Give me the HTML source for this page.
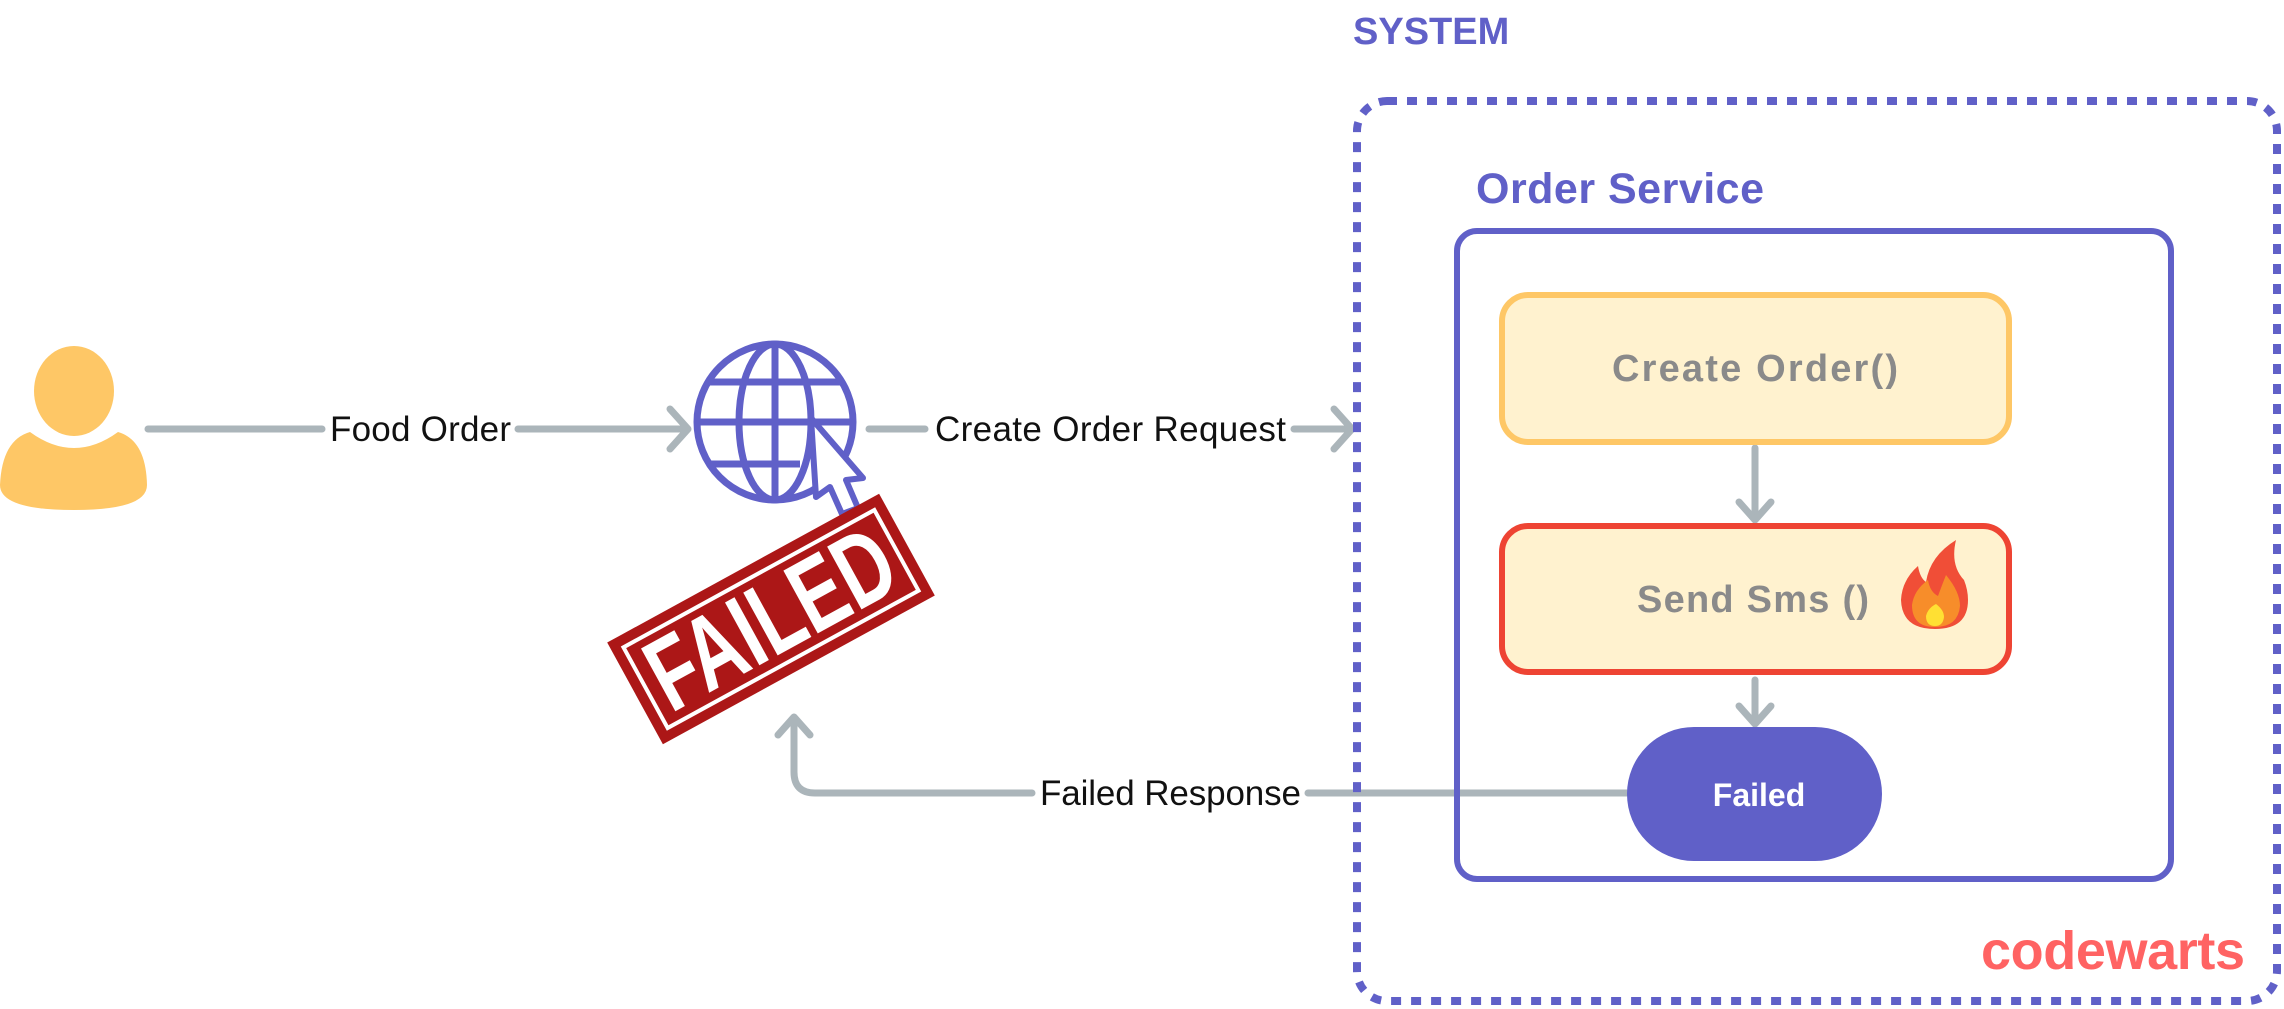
<!DOCTYPE html>
<html><head><meta charset="utf-8"><style>
html,body{margin:0;padding:0;background:#fff;}
svg{display:block;}
</style></head><body>
<svg width="2284" height="1009" viewBox="0 0 2284 1009" xmlns="http://www.w3.org/2000/svg">
<!-- person -->
<ellipse cx="74" cy="391" rx="40" ry="45" fill="#FEC766"/>
<path d="M0,485 Q2,440 30,432 Q52,448 74,448 Q96,448 118,432 Q146,440 147,485 Q147,510 74,510 Q0,510 0,485 Z" fill="#FEC766"/>
<g stroke="#ABB5BA" stroke-width="7" fill="none" stroke-linecap="round" stroke-linejoin="round">
<line x1="148" y1="429" x2="322" y2="429"/>
<line x1="518" y1="429" x2="686" y2="429"/>
<polyline points="670,409 688,429 670,449"/>
<line x1="869" y1="429" x2="925" y2="429"/>
<line x1="1294" y1="429" x2="1350" y2="429"/>
<polyline points="1334,409 1352,429 1334,449"/>
<line x1="1755" y1="448" x2="1755" y2="516"/>
<polyline points="1739,502 1755,520 1771,502"/>
<line x1="1755" y1="680" x2="1755" y2="720"/>
<polyline points="1739,706 1755,724 1771,706"/>
<line x1="1627" y1="793" x2="1308" y2="793"/>
<path d="M1032,793 L815,793 Q794,793 794,772 L794,718"/>
<polyline points="778,735 794,717 810,735"/>
</g>
<g font-family="Liberation Sans, sans-serif" font-size="35" fill="#111">
<text x="330" y="441" textLength="181">Food Order</text>
<text x="935" y="441" textLength="351">Create Order Request</text>
<text x="1040" y="805" textLength="261">Failed Response</text>
</g>
<!-- globe -->
<g stroke="#6060C8" stroke-width="7" fill="none">
<circle cx="775" cy="422" r="78"/>
<ellipse cx="775" cy="422" rx="36" ry="78"/>
<line x1="775" y1="344" x2="775" y2="500"/>
<line x1="700" y1="422" x2="850" y2="422"/>
<line x1="708" y1="382" x2="842" y2="382"/>
<line x1="708" y1="464" x2="800" y2="464"/>
</g>
<path d="M811,418 L863,478 L846,480 L858,508 L842,514 L830,487 L816,497 Z" fill="#fff" stroke="#6060C8" stroke-width="6" stroke-linejoin="round"/>
<!-- FAILED stamp -->
<g transform="translate(771,619) rotate(-28.7)">
<rect x="-155" y="-58" width="310" height="116" fill="#AC1717"/>
<rect x="-143" y="-46" width="286" height="92" fill="none" stroke="#fff" stroke-width="4"/>
<text x="0" y="0" transform="scale(0.72,1)" text-anchor="middle" dominant-baseline="central" font-family="Liberation Sans, sans-serif" font-weight="bold" font-size="104" fill="#fff">FAILED</text>
</g>
<!-- system box -->
<text x="1353" y="44" font-family="Liberation Sans, sans-serif" font-weight="bold" font-size="38" fill="#6060C8">SYSTEM</text>
<rect x="1357" y="101" width="920" height="900" rx="30" fill="none" stroke="#6060C8" stroke-width="8" stroke-dasharray="10 10"/>
<text x="1476" y="203" font-family="Liberation Sans, sans-serif" font-weight="bold" font-size="43" fill="#6060C8" textLength="288">Order Service</text>
<rect x="1457" y="231" width="714" height="648" rx="20" fill="none" stroke="#6060C8" stroke-width="6"/>
<rect x="1502" y="295" width="507" height="147" rx="26" fill="#FFF2CF" stroke="#FEC766" stroke-width="6"/>
<text x="1755" y="381" text-anchor="middle" font-family="Liberation Sans, sans-serif" font-weight="bold" font-size="38" fill="#8A8A8A" textLength="286">Create Order()</text>
<rect x="1502" y="526" width="507" height="146" rx="26" fill="#FFF2CF" stroke="#EE4433" stroke-width="6"/>
<text x="1753" y="612" text-anchor="middle" font-family="Liberation Sans, sans-serif" font-weight="bold" font-size="38" fill="#8A8A8A" textLength="232">Send Sms ()</text>
<!-- fire -->
<path d="M1935,629 Q1902,629 1901,600 Q1902,580 1918,566 Q1920,578 1926,582 Q1930,556 1956,540 Q1950,565 1964,580 Q1968,590 1968,600 Q1968,629 1935,629 Z" fill="#F04E37"/>
<path d="M1935,627 Q1912,627 1912,605 Q1914,590 1928,580 Q1930,592 1938,596 Q1942,585 1946,575 Q1960,592 1960,606 Q1958,627 1935,627 Z" fill="#F78D2A"/>
<path d="M1935,626 Q1926,626 1926,616 Q1928,608 1936,604 Q1944,610 1944,617 Q1943,626 1935,626 Z" fill="#FFE033"/>
<!-- failed pill -->
<rect x="1627" y="727" width="255" height="134" rx="67" fill="#6060C8"/>
<text x="1759" y="806" text-anchor="middle" font-family="Liberation Sans, sans-serif" font-weight="bold" font-size="32" fill="#fff">Failed</text>
<text x="1981" y="969" font-family="Liberation Sans, sans-serif" font-weight="bold" font-size="54" fill="#FF6363" textLength="264">codewarts</text>
</svg>
</body></html>
